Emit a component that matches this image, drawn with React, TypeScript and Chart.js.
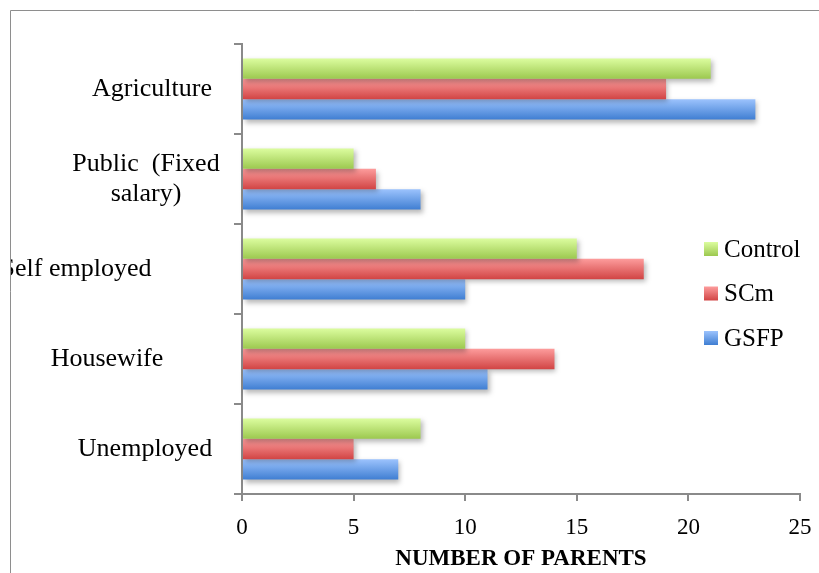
import { useEffect, useRef } from 'react';
import { Chart, registerables } from 'chart.js';

Chart.register(...registerables);

// Occupation of parents, counted per study group
const categories: (string | string[])[] = [
  'Agriculture',
  ['Public  (Fixed', 'salary)'],
  'Self employed',
  'Housewife',
  'Unemployed',
];
const seriesLabels = ['Control', 'SCm', 'GSFP'];
const controlValues = [21, 5, 15, 10, 8];
const scmValues = [19, 6, 18, 14, 5];
const gsfpValues = [23, 8, 10, 11, 7];
const axisTitle = 'NUMBER OF PARENTS';
const xMin = 0;
const xMax = 25;
const xStep = 5;

// Top / bottom gradient stops per series
const seriesGradients: [string, string][] = [
  ['#dcfd9f', '#9cc84f'],
  ['#fd9c9c', '#d14444'],
  ['#9cc3fd', '#3f7ed2'],
];

const SERIF = '"Liberation Serif", "Times New Roman", serif';
const GRAY = '#8a8a8a';

// Horizontal centre of each category label (left of the y axis)
const labelCenters = [152, 146, 76, 107, 145];

const gradientBars = {
  id: 'gradientBars',
  beforeDatasetsDraw(chart: any) {
    const ctx = chart.ctx as CanvasRenderingContext2D;
    chart.data.datasets.forEach((_ds: any, di: number) => {
      const meta = chart.getDatasetMeta(di);
      const [top, bottom] = seriesGradients[di];
      meta.data.forEach((el: any) => {
        const { y, height } = el.getProps(['y', 'height'], true);
        const g = ctx.createLinearGradient(0, y - height / 2, 0, y + height / 2);
        g.addColorStop(0, top);
        g.addColorStop(1, bottom);
        el.options.backgroundColor = g;
      });
    });
  },
  beforeDatasetDraw(chart: any) {
    const ctx = chart.ctx as CanvasRenderingContext2D;
    ctx.save();
    ctx.shadowColor = 'rgba(0,0,0,0.28)';
    ctx.shadowBlur = 5;
    ctx.shadowOffsetX = 2;
    ctx.shadowOffsetY = 3;
  },
  afterDatasetDraw(chart: any) {
    chart.ctx.restore();
  },
};

const frame = {
  id: 'frame',
  beforeDraw(chart: any) {
    const ctx = chart.ctx as CanvasRenderingContext2D;
    ctx.save();
    ctx.strokeStyle = '#8e8e8e';
    ctx.lineWidth = 1;
    ctx.beginPath();
    ctx.moveTo(10.5, chart.height);
    ctx.lineTo(10.5, 10.5);
    ctx.lineTo(chart.width, 10.5);
    ctx.stroke();
    ctx.restore();
  },
};

const categoryLabels = {
  id: 'categoryLabels',
  afterDraw(chart: any) {
    const ctx = chart.ctx as CanvasRenderingContext2D;
    const yScale = chart.scales.y;
    ctx.save();
    ctx.beginPath();
    ctx.rect(11, 11, chart.width, chart.height);
    ctx.clip();
    ctx.font = `26px ${SERIF}`;
    ctx.fillStyle = '#000';
    ctx.textAlign = 'center';
    ctx.textBaseline = 'middle';
    const lineHeight = 30;
    categories.forEach((label, i) => {
      const lines = Array.isArray(label) ? label : [label];
      const cy = yScale.getPixelForValue(i);
      lines.forEach((line, j) => {
        ctx.fillText(line, labelCenters[i], cy + (j - (lines.length - 1) / 2) * lineHeight);
      });
    });
    ctx.restore();
  },
};

const sideLegend = {
  id: 'sideLegend',
  afterDraw(chart: any) {
    const ctx = chart.ctx as CanvasRenderingContext2D;
    const boxX = 704;
    const firstY = 249;
    const gap = 44.5;
    const box = 14;
    ctx.save();
    ctx.font = `25px ${SERIF}`;
    ctx.textAlign = 'left';
    ctx.textBaseline = 'middle';
    chart.data.datasets.forEach((ds: any, i: number) => {
      const cy = firstY + i * gap;
      const [top, bottom] = seriesGradients[i];
      const g = ctx.createLinearGradient(0, cy - box / 2, 0, cy + box / 2);
      g.addColorStop(0, top);
      g.addColorStop(1, bottom);
      ctx.fillStyle = g;
      ctx.fillRect(boxX, cy - box / 2, box, box);
      ctx.fillStyle = '#000';
      ctx.fillText(ds.label, boxX + 20, cy + 1);
    });
    ctx.restore();
  },
};

export default function App() {
  const canvasRef = useRef<HTMLCanvasElement | null>(null);

  useEffect(() => {
    const canvas = canvasRef.current;
    if (!canvas) return;
    const values = [controlValues, scmValues, gsfpValues];
    const chart = new Chart(canvas, {
      type: 'bar',
      data: {
        labels: categories as any,
        datasets: seriesLabels.map((label, i) => ({
          label,
          data: values[i],
          backgroundColor: () => seriesGradients[i][1],
          borderWidth: 0,
          categoryPercentage: 0.68,
          barPercentage: 1,
          clip: false as any,
        })),
      },
      options: {
        indexAxis: 'y',
        responsive: false,
        animation: false,
        events: [],
        layout: { padding: { top: 44, right: 19, left: 0, bottom: 0 } },
        plugins: {
          legend: { display: false },
          tooltip: { enabled: false },
        },
        scales: {
          x: {
            min: xMin,
            max: xMax,
            ticks: {
              stepSize: xStep,
              color: '#000',
              font: { family: SERIF, size: 23 },
              padding: 13,
            },
            grid: {
              display: true,
              drawOnChartArea: false,
              drawTicks: true,
              tickLength: 7,
              color: GRAY,
              lineWidth: 2,
            },
            border: { display: true, color: GRAY, width: 2 },
            title: {
              display: true,
              text: axisTitle,
              color: '#000',
              font: { family: SERIF, size: 23, weight: 'bold' },
              padding: 0,
            },
            afterFit: (s: any) => {
              s.height = 79;
              s.paddingLeft = 0;
              s.paddingRight = 0;
            },
          },
          y: {
            type: 'category',
            ticks: { display: false },
            grid: {
              display: true,
              drawOnChartArea: false,
              drawTicks: true,
              tickLength: 8,
              color: GRAY,
              lineWidth: 2,
              offset: true,
            },
            border: { display: true, color: GRAY, width: 2 },
            afterFit: (s: any) => {
              s.width = 242;
            },
          },
        },
      },
      plugins: [frame, gradientBars, categoryLabels, sideLegend],
    });
    return () => chart.destroy();
  }, []);

  return (
    <div style={{ position: 'fixed', left: 0, top: 0, width: 819, height: 573, background: '#fff' }}>
      <canvas ref={canvasRef} width={819} height={573} style={{ display: 'block' }} />
    </div>
  );
}
